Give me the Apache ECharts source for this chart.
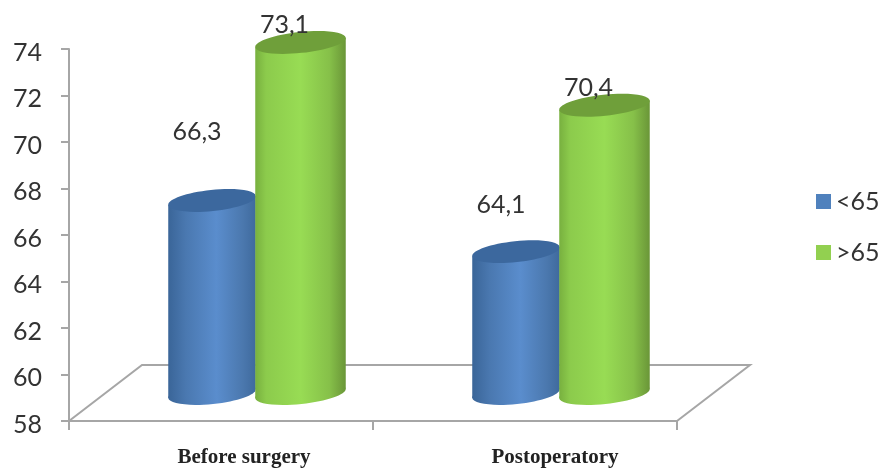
<!DOCTYPE html>
<html>
<head>
<meta charset="utf-8">
<style>html,body{margin:0;padding:0;background:#fff}#c{width:881px;height:468px}</style>
<script src="https://cdn.jsdelivr.net/npm/echarts@6/dist/echarts.min.js"></script>
</head>
<body>
<div id="c"></div>
<script>
// Age groups compared before and after surgery
const categories = ['Before surgery', 'Postoperatory'];
const under65 = [66.3, 64.1];
const over65 = [73.1, 70.4];
const seriesNames = ['<65', '>65'];

// Pseudo-3D layout
const FLOOR_DX = 73, FLOOR_DY = 56;          // full depth of the floor plane
const BAR_DX = 35, BAR_DY = 27.5;            // cylinders stand mid-way into the floor
const BAR_RY = 10.5, TILT = 6 * Math.PI / 180;
const CYL = {
  '<65': { offset: -44, rx: 44, labelDx: -15, lift: [69, 47] },
  '>65': { offset: 44.5, rx: 45.5, labelDx: -16, lift: [17, 17] }
};
const LABEL_PAD = [46, 60];

const palette = {
  '<65': { legend: '#4f81bd', top: '#3c689e',
    side: [[0, '#3a6598'], [0.2, '#4a78b0'], [0.55, '#5a8dcd'], [0.85, '#4b78ae'], [1, '#3f6a9d']] },
  '>65': { legend: '#92d050', top: '#6f9f3a',
    side: [[0, '#78b03f'], [0.12, '#8ccb4c'], [0.5, '#98dc54'], [0.82, '#86c049'], [1, '#6a9638']] }
};

const valueText = v => v.toFixed(1).replace('.', ',');

function cylinder(name) {
  const c = CYL[name];
  return function (params, api) {
    const base = api.coord([api.value(0), 58]);
    const top = api.coord([api.value(0), api.value(1)]);
    const cx = base[0] + BAR_DX + c.offset;
    const by = base[1] - BAR_DY, ty = top[1] - BAR_DY;
    const ax = c.rx * Math.cos(TILT), ay = c.rx * Math.sin(TILT);
    const p = palette[name];
    const fill = new echarts.graphic.LinearGradient(0, 0, 1, 0,
      p.side.map(s => ({ offset: s[0], color: s[1] })));
    const ell = (cy, f) => ({
      type: 'ellipse', x: cx, y: cy, rotation: TILT,
      shape: { cx: 0, cy: 0, rx: c.rx, ry: BAR_RY }, style: { fill: f }
    });
    return {
      type: 'group',
      children: [
        ell(by, fill),
        { type: 'polygon',
          shape: { points: [[cx - ax, ty + ay], [cx + ax, ty - ay], [cx + ax, by - ay], [cx - ax, by + ay]] },
          style: { fill: fill } },
        ell(ty, p.top),
        { type: 'text', z2: 50,
          style: { text: valueText(api.value(1)),
            x: cx + c.labelDx,
            y: ty - c.lift[params.dataIndex],
            align: 'center', verticalAlign: 'middle',
            font: '25px Lato', fill: '#333' } }
      ]
    };
  };
}

function floorPlane(params) {
  const g = params.coordSys;
  const x0 = g.x, x1 = g.x + g.width, y = g.y + g.height;
  return {
    type: 'polyline',
    shape: { points: [[x0, y], [x0 + FLOOR_DX, y - FLOOR_DY], [x1 + FLOOR_DX, y - FLOOR_DY], [x1, y]] },
    style: { fill: 'none', stroke: '#a6a6a6', lineWidth: 2 }
  };
}

const chart = echarts.init(document.getElementById('c'), null, { renderer: 'canvas' });
chart.setOption({
  animation: false,
  backgroundColor: '#fff',
  grid: { left: 69, top: 49, width: 608, height: 372, containLabel: false },
  legend: {
    data: seriesNames, orient: 'vertical', left: 811, top: 184,
    icon: 'rect', itemWidth: 15, itemHeight: 15, itemGap: 26,
    textStyle: { fontFamily: 'Lato', fontSize: 25, color: '#333', padding: [0, 0, 0, 0] }
  },
  xAxis: {
    type: 'category', boundaryGap: true,
    data: categories.map((c, i) => ({
      value: c, textStyle: { padding: [0, 0, 0, LABEL_PAD[i]] }
    })),
    axisLine: { lineStyle: { color: '#a6a6a6', width: 2 } },
    axisTick: { show: true, alignWithLabel: false, length: 9, lineStyle: { color: '#a6a6a6', width: 2 } },
    axisLabel: { fontFamily: 'Liberation Serif', fontWeight: 'bold', fontSize: 21, color: '#222', margin: 26 }
  },
  yAxis: {
    type: 'value', min: 58, max: 74, interval: 2,
    splitLine: { show: false },
    axisLine: { show: true, lineStyle: { color: '#a6a6a6', width: 2 } },
    axisTick: { show: true, length: 8, lineStyle: { color: '#a6a6a6', width: 2 } },
    axisLabel: { fontFamily: 'Lato', fontSize: 25, color: '#333', margin: 27, verticalAlign: 'top', lineHeight: 7 }
  },
  series: [
    { type: 'custom', name: 'floor', z: 1, silent: true, renderItem: floorPlane, data: [[0, 58]] },
    { type: 'custom', name: seriesNames[0], z: 2, renderItem: cylinder(seriesNames[0]),
      itemStyle: { color: palette[seriesNames[0]].legend },
      data: under65.map((v, i) => [i, v]), encode: { x: 0, y: 1 } },
    { type: 'custom', name: seriesNames[1], z: 3, renderItem: cylinder(seriesNames[1]),
      itemStyle: { color: palette[seriesNames[1]].legend },
      data: over65.map((v, i) => [i, v]), encode: { x: 0, y: 1 } }
  ]
});
</script>
</body>
</html>
